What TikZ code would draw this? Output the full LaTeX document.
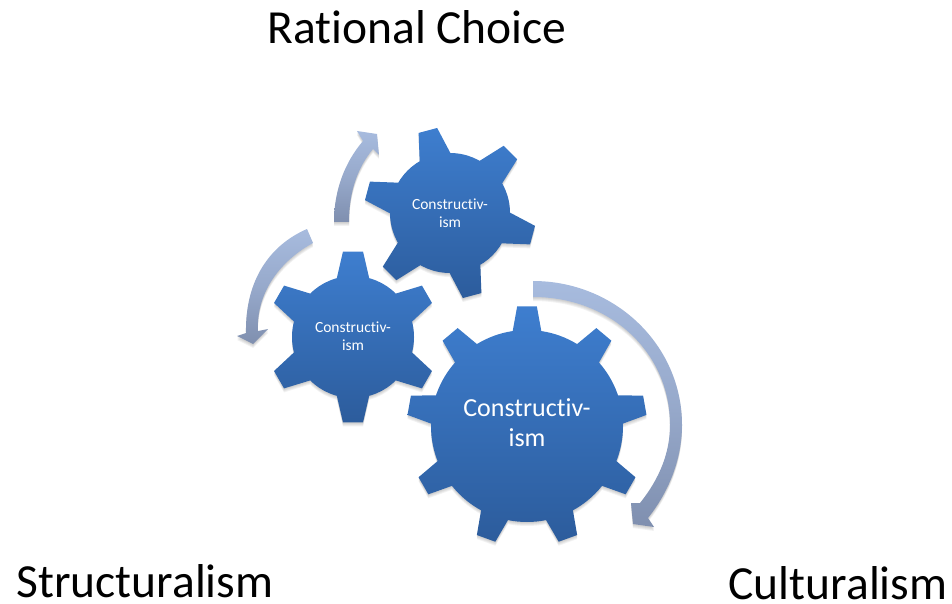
\documentclass[tikz,border=0pt]{standalone}
\usepackage{fontspec}
\setmainfont[RawFeature={-liga;-clig;-dlig}]{Carlito}
\definecolor{geartop}{HTML}{3E7ECF}
\definecolor{gearbot}{HTML}{2C5C9C}
\definecolor{arrtop}{HTML}{A7BBDE}
\definecolor{arrbot}{HTML}{7F8FAF}
\tikzset{
  gearfill/.style={top color=geartop,bottom color=gearbot,draw=none},
  arrfill/.style={top color=arrtop,bottom color=arrbot,draw=none,middle color=arrtop!60!arrbot},
  softshadow/.style={fill=black,fill opacity=0.05,draw=none},
  title/.style={font=\fontsize{47.5}{47.5}\selectfont,text=black,inner sep=0pt},
  biglabel/.style={font=\fontsize{26}{30}\selectfont,text=white,align=center,inner sep=0pt},
  smalllabel/.style={font=\fontsize{15.5}{18}\selectfont,text=white,align=center,inner sep=0pt},
}
% cx cy rbody rtip n start halfbase halftip
\newcommand\gearshape[8]{%
  (#1,#2) circle ({#3pt})
  foreach \k in {1,...,#5}{
    ({#1+(#3-3)*cos(#6+(\k-1)*360/#5-#7)},{#2+(#3-3)*sin(#6+(\k-1)*360/#5-#7)})
    -- ({#1+#4*cos(#6+(\k-1)*360/#5-#8)},{#2+#4*sin(#6+(\k-1)*360/#5-#8)})
    -- ({#1+#4*cos(#6+(\k-1)*360/#5+#8)},{#2+#4*sin(#6+(\k-1)*360/#5+#8)})
    -- ({#1+(#3-3)*cos(#6+(\k-1)*360/#5+#7)},{#2+(#3-3)*sin(#6+(\k-1)*360/#5+#7)})
    -- cycle
  }
}
\newcommand\gearwithshadow[8]{%
  \foreach \s in {1,2,3,4}{
    \path[softshadow,yshift={-\s*1pt}] \gearshape{#1}{#2}{#3}{#4}{#5}{#6}{#7}{#8};
  }
  \path[gearfill] \gearshape{#1}{#2}{#3}{#4}{#5}{#6}{#7}{#8};
}
% y' = 603 - y
\newcommand\arrowbig{(533,322) .. controls (615,322) and (682,258) .. (682,178)
  .. controls (682,143) and (668,110) .. (648,85) -- (654,76) -- (633,79) -- (631,100) -- (640,100)
  .. controls (660,125) and (670,151) .. (670,178)
  .. controls (670,251) and (610,306) .. (533,306) -- cycle}
\newcommand\arrowtop{(334,381) .. controls (334,413) and (345,441) .. (363,462)
  -- (357,472) -- (377,469) -- (379,448) -- (373,454)
  .. controls (358,436) and (349,412) .. (349,381) -- cycle}
\newcommand\arrowleft{(307,374) .. controls (270,358) and (245,323) .. (246,270)
  -- (237,267) -- (253,259) -- (268,274) -- (258,272)
  .. controls (256,308) and (278,341) .. (313,360) -- cycle}
\begin{document}
\begin{tikzpicture}[x=1pt,y=1pt]
\useasboundingbox (0,0) rectangle (952,603);
% arrows
\foreach \s in {1,2,3,4}{
  \path[softshadow,yshift={-\s*1pt}] \arrowbig;
  \path[softshadow,yshift={-\s*1pt}] \arrowtop;
  \path[softshadow,yshift={-\s*1pt}] \arrowleft;
}
\path[arrfill] \arrowbig;
\path[arrfill] \arrowtop;
\path[arrfill] \arrowleft;
% gears
\gearwithshadow{450}{390}{60}{86}{6}{105}{17}{6.4}
\gearwithshadow{353}{266}{61}{86}{6}{90}{17}{6.7}
\gearwithshadow{527}{177}{96}{120}{9}{90}{9.2}{4.7}
% labels
\node[smalllabel] (upper) at (450,390) {Constructiv-\\ism};
\node[smalllabel] (left) at (353,267) {Constructiv-\\ism};
\node[biglabel] (big) at (527,180) {Constructiv-\\ism};
\node[title] (rational) at (417,576) {Rational Choice};
\node[title] (structural) at (145,22) {Structuralism};
\node[title] (cultural) at (838,20) {Culturalism};
\end{tikzpicture}
\end{document}
